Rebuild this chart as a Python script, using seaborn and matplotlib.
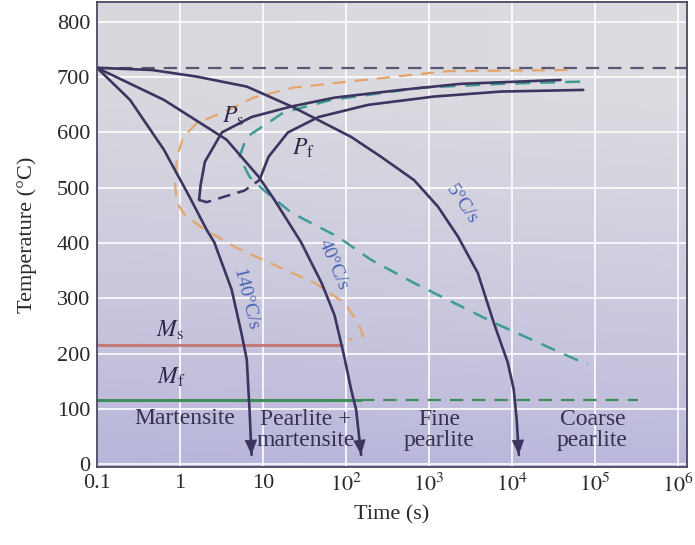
import numpy as np
import pandas as pd
import matplotlib
matplotlib.use("Agg")
import matplotlib.pyplot as plt
from matplotlib.ticker import NullLocator
import seaborn as sns

# ---------------- data (time in s, temperature in °C) ----------------
cool140_t = [0.1, 0.25, 0.64, 1.3, 2.1, 2.6, 4.2, 5.5, 6.4, 6.9, 7.3]
cool140_T = [717, 659, 569, 484, 424, 401, 316, 238, 189, 99, 17]

cool40_t = [0.1, 0.64, 3.65, 8.9, 13.8, 29, 51, 73, 96, 116, 133, 153]
cool40_T = [717, 659, 587, 520, 478, 401, 328, 270, 194, 135, 99, 17]

cool5_t = [0.1, 0.46, 1.6, 6.4, 23, 116, 266, 664, 1290, 2245, 3900, 6080, 8960,
           10600, 11500, 12200]
cool5_T = [717, 713, 701, 683, 646, 592, 556, 514, 466, 412, 346, 256, 184,
           135, 80, 17]

start_t = [1.7, 1.78, 2.0, 3.2, 7.3, 22, 73, 460, 2440, 38800]
start_T = [478, 506, 547, 600, 628, 647, 663, 677, 688, 695]

finish_t = [9.1, 11.7, 20, 47, 186, 1160, 7400, 73000]
finish_T = [514, 556, 600, 628, 650, 665, 674, 677]

link_t = [1.7, 2.1, 3.45, 6.0, 9.1]
link_T = [478, 474, 484, 495, 514]

teal_t = [67000, 7400, 800, 67, 17.7, 6.4, 5.2, 6.9, 10.2, 22, 81, 200, 660, 6100, 82000]
teal_T = [692, 688, 681, 659, 636, 592, 556, 520, 496, 455, 411, 370, 328, 256, 180]

orange_t = [47000, 1700, 107, 23, 7.7, 3.4, 1.6, 1.1, 0.92, 0.87, 0.92, 1.14, 1.83, 4.6,
            15.4, 42, 96, 141, 162, 110]
orange_T = [713, 711, 692, 681, 663, 637, 617, 592, 556, 509, 473, 451, 428, 393,
            357, 328, 292, 256, 232, 225]

eutectoid_t = [0.1, 1.3e6]
eutectoid_T = [717, 717]

ms_t = [0.1, 90]
ms_T = [216, 216]

mf_solid_t = [0.1, 153]
mf_dash_t = [153, 3.3e5]
mf_T = [117, 117]

yticks = [0, 100, 200, 300, 400, 500, 600, 700, 800]
xticks = [0.1, 1, 10, 1e2, 1e3, 1e4, 1e5, 1e6]
xticklabels = ["0.1", "1", "10", r"$10^{2}$", r"$10^{3}$", r"$10^{4}$", r"$10^{5}$", r"$10^{6}$"]

# ---------------- style ----------------
sns.set_style("white")
plt.rcParams["font.family"] = ["Liberation Serif", "DejaVu Serif"]
plt.rcParams["mathtext.fontset"] = "stix"

W, H = 695, 545
fig = plt.figure(figsize=(W / 100, H / 100), dpi=100)
rect = [97 / W, 78 / H, 590 / W, 465 / H]

# background gradient
bg = fig.add_axes(rect, zorder=0)
ny, nx = 200, 200
yy = np.linspace(0, 1, ny)[:, None, None]
xx = np.linspace(0, 1, nx)[None, :, None]
top = np.array([0.850, 0.845, 0.872])
bot = np.array([0.715, 0.705, 0.855])
f = np.clip(yy * 1.25, 0, 1) ** 0.8
img = bot * (1 - f) + top * f + 0.015 * xx * np.array([1, 1, 0.6])
img = np.clip(img, 0, 1)
bg.imshow(img, aspect="auto", origin="lower", interpolation="bilinear")
bg.axis("off")

ax = fig.add_axes(rect, zorder=1)
ax.patch.set_alpha(0)
ax.set_xscale("log")

cool_c = "#3b355f"


def line(t, T, **kw):
    df = pd.DataFrame({"t": t, "T": T})
    sns.lineplot(data=df, x="t", y="T", sort=False, estimator=None, ax=ax, **kw)


line(eutectoid_t, eutectoid_T, color="#5a5870", lw=1.6, linestyle=(0, (6, 4)))
line(ms_t, ms_T, color="#c27b78", lw=2.2)
line(mf_solid_t, mf_T, color="#3f8d58", lw=2.2)
line(mf_dash_t, mf_T, color="#3f8d58", lw=1.6, linestyle=(0, (6, 4)))
line(orange_t, orange_T, color="#e4a56a", lw=1.6, linestyle=(0, (6, 4)))
line(teal_t, teal_T, color="#3f9c94", lw=1.8, linestyle=(0, (6, 4)))
line(start_t, start_T, color=cool_c, lw=1.9)
line(finish_t, finish_T, color=cool_c, lw=1.9)
line(link_t, link_T, color=cool_c, lw=1.8, linestyle=(0, (5, 3)))

for t, T in [(cool140_t, cool140_T), (cool40_t, cool40_T), (cool5_t, cool5_T)]:
    line(t, T, color=cool_c, lw=1.9)
    ax.annotate("", xy=(t[-1], T[-1]), xytext=(t[-2], T[-2]),
                arrowprops=dict(arrowstyle="-|>,head_length=0.6,head_width=0.25",
                                color=cool_c, lw=0, shrinkA=0, shrinkB=0,
                                mutation_scale=18))

# labels
lab_c = "#2c2a4a"
ax.text(4.4, 630, r"$P_{\rm s}$", fontsize=17, color=lab_c, ha="center", va="center")
ax.text(30.8, 572, r"$P_{\rm f}$", fontsize=17, color=lab_c, ha="center", va="center")
ax.text(0.75, 243, r"$M_{\rm s}$", fontsize=17, color=lab_c, ha="center", va="center")
ax.text(0.79, 158, r"$M_{\rm f}$", fontsize=17, color=lab_c, ha="center", va="center")

blue = "#4a63b5"
ax.text(6.1, 297, "140°C/s", fontsize=14, color=blue, rotation=-76, ha="center", va="center")
ax.text(70, 361, "40°C/s", fontsize=14, color=blue, rotation=-67, ha="center", va="center")
ax.text(2500, 470, "5°C/s", fontsize=14, color=blue, rotation=-56, ha="center", va="center")

reg_c = "#34324f"
ax.text(1.14, 82, "Martensite", fontsize=17, color=reg_c, ha="center", va="center")
ax.text(33, 62, "Pearlite +\nmartensite", fontsize=17, color=reg_c, ha="center",
        va="center", linespacing=1.0)
ax.text(1330, 62, "Fine\npearlite", fontsize=17, color=reg_c, ha="center",
        va="center", linespacing=1.0)
ax.text(94000, 62, "Coarse\npearlite", fontsize=17, color=reg_c, ha="center",
        va="center", linespacing=1.0)

# axes
ax.set_xlim(0.1, 1.3e6)
ax.set_ylim(-5, 836)
ax.set_xticks(xticks)
ax.set_xticklabels(xticklabels)
ax.xaxis.set_minor_locator(NullLocator())
ax.set_yticks(yticks)
ax.grid(True, which="major", color="white", lw=1.3, alpha=0.9)
ax.tick_params(direction="in", length=10, width=1.4, color="#45435a",
               labelsize=16, pad=5, labelcolor="#2a2a2a")
for s in ax.spines.values():
    s.set_visible(True)
    s.set_color("#4a4860")
    s.set_linewidth(1.3)
ax.set_xlabel("Time (s)", fontsize=16, color="#2a2a2a", labelpad=6)
ax.set_ylabel("Temperature (°C)", fontsize=16, color="#2a2a2a", labelpad=14)

fig.savefig("out.png", dpi=100)
